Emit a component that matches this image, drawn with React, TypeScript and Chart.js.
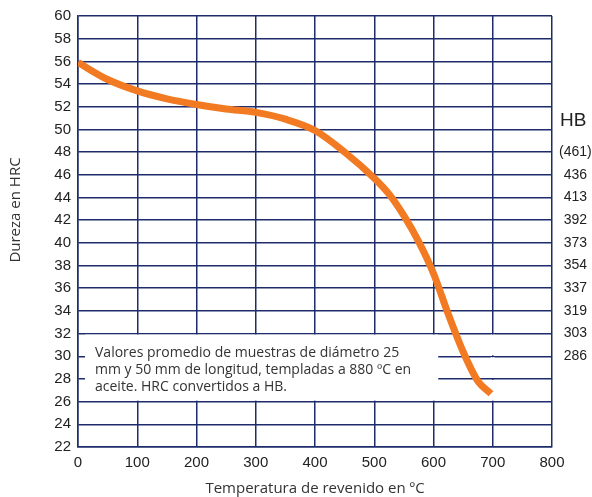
import React, { useEffect, useRef } from "react";
import { Chart, registerables } from "chart.js";

Chart.register(...registerables);

// Data
const temps = [0, 50, 100, 150, 200, 250, 300, 350, 400, 450, 500, 525, 550, 575, 600, 625, 650, 675, 697];
const hrc = [55.9, 54.4, 53.4, 52.7, 52.2, 51.8, 51.5, 50.9, 49.9, 48.0, 45.7, 44.3, 42.4, 40.1, 37.3, 33.7, 30.4, 27.8, 26.7];
const hbTickValues = [48, 46, 44, 42, 40, 38, 36, 34, 32, 30];
const hbTickLabels = ["(461)", "436", "413", "392", "373", "354", "337", "319", "303", "286"];
const noteLines = [
  "Valores promedio de muestras de diámetro 25",
  "mm y 50 mm de longitud, templadas a 880 ºC en",
  "aceite. HRC convertidos a HB.",
];
const xTitle = "Temperatura de revenido en ºC";
const yTitle = "Dureza en HRC";
const hbTitle = "HB";

const GRID = "#1e2c6b";
const ORANGE = "#f27a22";
const TICK_FONT = "'Liberation Sans Narrow', 'Liberation Sans', Arial, sans-serif";
const TEXT_FONT = "'Open Sans', 'Noto Sans', sans-serif";

const overlayPlugin = {
  id: "overlay",
  beforeDatasetsDraw(chart: any) {
    const { ctx, scales } = chart;
    const x = scales.x;
    const y = scales.y;
    const top = y.getPixelForValue(32) + 1;
    const bottom = y.getPixelForValue(26) - 1;
    const left = x.getPixelForValue(0) + 7;
    const right = x.getPixelForValue(608);
    ctx.save();
    ctx.fillStyle = "#ffffff";
    ctx.fillRect(left, top, right - left, bottom - top);
    const x700 = x.getPixelForValue(700);
    [[32, 30], [30, 28], [28, 26]].forEach(([a, b]) => {
      const t = y.getPixelForValue(a) + 1;
      const bt = y.getPixelForValue(b) - 1;
      ctx.fillRect(x700 - 2, t, 4, bt - t);
    });
    ctx.fillStyle = "#333333";
    ctx.font = `14px ${TEXT_FONT}`;
    ctx.textAlign = "left";
    ctx.textBaseline = "middle";
    noteLines.forEach((line, i) => {
      ctx.fillText(line, left + 10, top + 18 + i * 17);
    });
    ctx.restore();
  },
  afterDraw(chart: any) {
    const { ctx, chartArea, scales } = chart;
    ctx.save();
    ctx.fillStyle = "#333333";
    ctx.font = `15px ${TEXT_FONT}`;
    ctx.textAlign = "center";
    ctx.textBaseline = "middle";
    ctx.fillText(xTitle, (chartArea.left + chartArea.right) / 2, 489);
    ctx.save();
    ctx.translate(16, 210);
    ctx.rotate(-Math.PI / 2);
    ctx.fillText(yTitle, 0, 0);
    ctx.restore();
    ctx.fillStyle = "#222222";
    ctx.font = `19px ${TICK_FONT}`;
    ctx.textAlign = "left";
    ctx.fillText(hbTitle, chartArea.right + 8, scales.y.getPixelForValue(50.8));
    ctx.restore();
  },
};

export default function App() {
  const ref = useRef<HTMLCanvasElement>(null);
  useEffect(() => {
    if (!ref.current) return;
    const chart = new Chart(ref.current, {
      type: "line",
      data: {
        datasets: [
          {
            data: temps.map((t, i) => ({ x: t, y: hrc[i] })),
            borderColor: ORANGE,
            borderWidth: 7,
            pointRadius: 0,
            fill: false,
            cubicInterpolationMode: "monotone",
            borderCapStyle: "butt",
            borderJoinStyle: "round",
          },
        ],
      },
      options: {
        animation: false,
        responsive: false,
        maintainAspectRatio: false,
        layout: { padding: { top: 15, left: 0, right: 0, bottom: 0 } },
        plugins: { legend: { display: false }, tooltip: { enabled: false } },
        scales: {
          x: {
            type: "linear",
            min: 0,
            max: 800,
            ticks: {
              stepSize: 100,
              color: "#222222",
              font: { family: TICK_FONT, size: 15 },
              padding: 7,
              maxRotation: 0,
            },
            grid: { color: GRID, lineWidth: 1.5, drawTicks: false },
            border: { color: GRID, width: 1.5 },
            afterFit: (s: any) => {
              s.height = 50;
            },
          },
          y: {
            min: 22,
            max: 60,
            ticks: {
              stepSize: 2,
              color: "#222222",
              font: { family: TICK_FONT, size: 15 },
              padding: 7,
            },
            grid: { color: GRID, lineWidth: 1.5, drawTicks: false },
            border: { color: GRID, width: 1.5 },
            afterFit: (s: any) => {
              s.width = 78;
            },
          },
          y2: {
            position: "right",
            min: 22,
            max: 60,
            afterBuildTicks: (s: any) => {
              s.ticks = hbTickValues.map((v) => ({ value: v }));
            },
            ticks: {
              color: "#222222",
              font: { family: TICK_FONT, size: 14 },
              padding: 7,
              crossAlign: "center",
              callback: (v: any) => {
                const i = hbTickValues.indexOf(Number(v));
                return i >= 0 ? hbTickLabels[i] : "";
              },
            },
            grid: { display: false, drawTicks: false },
            border: { display: false },
            afterFit: (s: any) => {
              s.width = 40;
            },
          },
        },
      } as any,
      plugins: [overlayPlugin],
    });
    return () => chart.destroy();
  }, []);
  return (
    <div style={{ position: "fixed", left: 0, top: 0, width: 592, height: 497, background: "#fff" }}>
      <canvas ref={ref} width={592} height={497} style={{ width: 592, height: 497 }} />
    </div>
  );
}
